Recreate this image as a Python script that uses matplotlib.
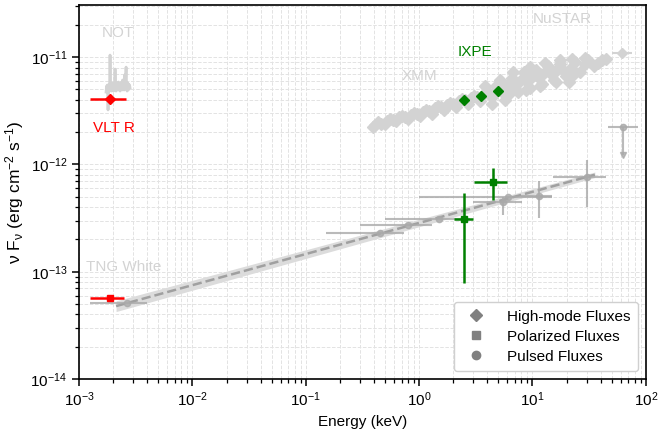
import numpy as np
import matplotlib.pyplot as plt
from matplotlib.lines import Line2D
from matplotlib.ticker import NullFormatter, LogLocator

plt.rcParams['font.family'] = ['Liberation Sans', 'DejaVu Sans']
plt.rcParams['mathtext.fontset'] = 'custom'
plt.rcParams['mathtext.rm'] = 'Liberation Sans'
plt.rcParams['mathtext.it'] = 'Liberation Sans:italic'
plt.rcParams['font.size'] = 11

# NOT optical spectrum (keV, erg cm^-2 s^-1)
not_E = [1.730e-3, 1.748e-3, 1.765e-3, 1.783e-3, 1.801e-3, 1.819e-3, 1.838e-3, 1.857e-3,
         1.876e-3, 1.895e-3, 1.915e-3, 1.934e-3, 1.954e-3, 1.974e-3, 1.995e-3, 2.015e-3,
         2.035e-3, 2.056e-3, 2.077e-3, 2.098e-3, 2.120e-3, 2.141e-3, 2.163e-3, 2.185e-3,
         2.208e-3, 2.230e-3, 2.253e-3, 2.276e-3, 2.299e-3, 2.323e-3, 2.347e-3, 2.371e-3,
         2.395e-3, 2.419e-3, 2.444e-3, 2.469e-3, 2.494e-3, 2.520e-3, 2.545e-3, 2.571e-3,
         2.598e-3, 2.624e-3, 2.651e-3, 2.678e-3, 2.705e-3, 2.733e-3, 2.761e-3, 2.789e-3, 2.817e-3]
not_F = [4.73, 5.38, 4.94, 5.50, 3.22, 5.15, 5.50, 4.83, 10.45, 5.15, 5.62, 4.83, 5.50, 4.94,
         5.74, 4.83, 5.38, 5.04, 7.74, 5.38, 4.83, 5.62, 5.04, 5.74, 4.94, 5.86, 5.04, 5.62,
         4.83, 5.74, 5.04, 5.86, 4.94, 6.12, 5.04, 5.86, 4.94, 6.81, 5.38, 6.12, 8.07, 5.38,
         4.83, 5.74, 4.94, 5.62, 5.04, 5.50, 5.15]
not_F = [f * 1e-12 for f in not_F]

# XMM + NuSTAR high-mode fluxes (units of 1e-12)
hm_E = [0.391, 0.433, 0.499, 0.553, 0.624, 0.705, 0.796, 0.900, 1.02, 1.15, 1.30, 1.46,
        1.65, 1.87, 2.11, 2.38, 2.69, 3.04, 3.44, 3.88, 4.38, 4.95, 5.59,
        0.4075, 0.4603, 0.5198, 0.5873, 0.6634, 0.7493, 0.8465, 0.956, 1.080, 1.220, 1.378,
        1.556, 1.758, 1.986, 2.243, 2.533, 2.862, 3.232, 3.651, 4.124, 4.659, 5.263,
        3.80, 4.38, 5.16, 5.71, 6.58, 7.43, 8.40, 9.48, 10.7, 12.1, 13.7, 15.4, 17.4,
        19.7, 20.9, 23.6, 26.2, 30.8, 34.8, 40.9,
        4.754, 5.483, 6.066, 6.992, 7.898, 8.922, 10.08, 11.39, 12.86, 14.52, 16.41, 18.53,
        21.80, 28.96, 37.71, 44.38, 6.32, 8.741, 11.61, 16.08, 22.25,
        6.714, 9.482, 12.86, 17.43, 22.25, 28.96]
hm_F = [2.24, 2.49, 2.39, 2.66, 2.55, 2.83, 2.66, 3.02, 2.83, 3.22, 2.96, 3.51,
        3.22, 3.74, 3.43, 4.07, 3.66, 4.34, 3.90, 4.73, 4.25, 5.16, 4.53,
        2.34, 2.39, 2.55, 2.60, 2.77, 2.77, 2.89, 2.96, 3.09, 3.15, 3.36,
        3.43, 3.58, 3.66, 3.90, 3.99, 4.16, 4.25, 4.44, 4.63, 4.83, 4.94,
        5.38, 3.66, 6.12, 3.99, 6.38, 4.73, 7.26, 5.16, 7.58, 5.62, 8.25, 6.12, 8.61,
        6.66, 5.86, 8.99, 7.26, 9.38, 8.25, 9.38,
        5.38, 4.94, 5.62, 5.38, 6.12, 5.86, 6.66, 6.38, 7.26, 6.96, 7.58, 7.58,
        7.90, 8.61, 8.80, 9.58, 4.63, 4.94, 5.38, 5.86, 6.66,
        7.26, 8.07, 8.80, 9.38, 9.58, 9.79]
hm_F = [f * 1e-12 for f in hm_F]
hm_last_E, hm_last_F, hm_last_Elo, hm_last_Ehi = 61.4, 1.09e-11, 50.1, 75.2

# IXPE high-mode fluxes
ixpe_E = [2.48, 3.51, 4.95]
ixpe_F = [3.99e-12, 4.35e-12, 4.83e-12]

# optical points
vlt_E, vlt_F, vlt_Elo, vlt_Ehi = 1.875e-3, 4.07e-12, 1.25e-3, 2.60e-3
tng_E, tng_F, tng_Elo, tng_Ehi = 1.875e-3, 5.66e-14, 1.25e-3, 2.49e-3

# polarized fluxes (IXPE)
pol_E = [2.48, 4.48]
pol_F = [3.13e-13, 6.9e-13]
pol_Elo = [2.03, 3.04]
pol_Ehi = [2.98, 5.94]
pol_Flo = [7.8e-14, 4.7e-13]
pol_Fhi = [5.46e-13, 9.3e-13]

# pulsed fluxes
pul_E = [2.65e-3, 0.451, 0.796, 1.50, 5.48, 6.07, 11.4, 30.2]
pul_F = [5.1e-14, 2.28e-13, 2.70e-13, 3.13e-13, 4.5e-13, 5.0e-13, 5.1e-13, 7.69e-13]
pul_Elo = [1.25e-3, 0.151, 0.30, 0.50, 2.98, 1.0, 8.0, 15.1]
pul_Ehi = [3.98e-3, 0.735, 1.30, 2.8, 8.05, 14.8, 15.0, 44.4]
pul_Flo = [5.1e-14, 2.28e-13, 2.70e-13, 3.13e-13, 3.4e-13, 5.0e-13, 3.2e-13, 4.05e-13]
pul_Fhi = [5.1e-14, 2.28e-13, 2.70e-13, 3.13e-13, 5.0e-13, 5.0e-13, 7.06e-13, 1.11e-12]
ul_E, ul_F, ul_Elo, ul_Ehi, ul_Fend = 62.7, 2.24e-12, 46.2, 85.0, 1.23e-12

# power-law model for pulsed emission
mod_E = [2.12e-3, 35.5]
mod_F = [4.78e-14, 8.02e-13]
mod_Flo = [4.25e-14, 7.55e-13]
mod_Fhi = [5.35e-14, 8.50e-13]

xticks = [1e-3, 1e-2, 1e-1, 1e0, 1e1, 1e2]
yticks = [1e-14, 1e-13, 1e-12, 1e-11]

fig = plt.figure(figsize=(6.59, 4.30), dpi=100)
ax = fig.add_axes([0.120, 0.1186, 0.860, 0.869])
ax.set_xscale('log')
ax.set_yscale('log')
ax.set_xlim(1e-3, 1e2)
ax.set_ylim(1e-14, 3.04e-11)

gcol = '#d3d3d3'
pcol = '#a9a9a9'

# NOT spectrum
ax.plot(not_E, not_F, color=gcol, lw=2.0, zorder=2)

# high-mode X-ray band
ax.plot(hm_E, hm_F, 'D', color=gcol, ms=6, lw=0, zorder=2)
ax.errorbar(hm_last_E, hm_last_F, xerr=[[hm_last_E - hm_last_Elo], [hm_last_Ehi - hm_last_E]],
            fmt='D', color=gcol, ms=5.5, elinewidth=1.5, zorder=2)
ax.plot(ixpe_E, ixpe_F, 'D', color='green', ms=5.5, lw=0, zorder=4)

# model band and line
ax.fill_between(mod_E, mod_Flo, mod_Fhi, color='#dcdcdc', lw=0, zorder=2)
ax.plot(mod_E, mod_F, '--', color='#a0a0a0', lw=1.8, zorder=3)

# pulsed points
pE = np.array(pul_E)
pF = np.array(pul_F)
ax.errorbar(pE, pF,
            xerr=[pE - np.array(pul_Elo), np.array(pul_Ehi) - pE],
            yerr=[pF - np.array(pul_Flo), np.array(pul_Fhi) - pF],
            fmt='o', color=pcol, ms=4.5, elinewidth=1.5, alpha=0.8, zorder=3)
ax.errorbar(ul_E, ul_F, xerr=[[ul_E - ul_Elo], [ul_Ehi - ul_E]], yerr=[[ul_F - ul_Fend], [0]],
            fmt='o', color=pcol, ms=4.5, elinewidth=1.5, alpha=0.8, zorder=3)
ax.plot(ul_E, ul_Fend, 'v', color=pcol, ms=4.5, alpha=0.8, zorder=3)

# polarized points
qE = np.array(pol_E)
qF = np.array(pol_F)
ax.errorbar(qE, qF,
            xerr=[qE - np.array(pol_Elo), np.array(pol_Ehi) - qE],
            yerr=[qF - np.array(pol_Flo), np.array(pol_Fhi) - qF],
            fmt='s', color='green', ms=5, elinewidth=1.8, zorder=5)

# optical points
ax.errorbar(vlt_E, vlt_F, xerr=[[vlt_E - vlt_Elo], [vlt_Ehi - vlt_E]],
            fmt='D', color='red', ms=5, elinewidth=1.8, zorder=5)
ax.errorbar(tng_E, tng_F, xerr=[[tng_E - tng_Elo], [tng_Ehi - tng_E]],
            fmt='s', color='red', ms=5, elinewidth=1.8, zorder=5)

# instrument labels
ax.text(2.21e-3, 1.67e-11, 'NOT', color=gcol, ha='center', va='center', fontsize=11)
ax.text(2.04e-3, 2.19e-12, 'VLT R', color='red', ha='center', va='center', fontsize=11)
ax.text(2.49e-3, 1.10e-13, 'TNG White', color=gcol, ha='center', va='center', fontsize=11)
ax.text(1.0, 6.67e-12, 'XMM', color=gcol, ha='center', va='center', fontsize=11)
ax.text(3.10, 1.11e-11, 'IXPE', color='green', ha='center', va='center', fontsize=11)
ax.text(18.2, 2.25e-11, 'NuSTAR', color=gcol, ha='center', va='center', fontsize=11)

# ticks: fixed majors so no hidden out-of-range labels
ax.set_xticks(xticks)
ax.set_yticks(yticks)
ax.xaxis.set_minor_locator(LogLocator(base=10, subs=np.arange(2, 10), numticks=20))
ax.yaxis.set_minor_locator(LogLocator(base=10, subs=np.arange(2, 10), numticks=20))
ax.xaxis.set_minor_formatter(NullFormatter())
ax.yaxis.set_minor_formatter(NullFormatter())
ax.set_xlim(1e-3, 1e2)
ax.set_ylim(1e-14, 3.04e-11)

ax.grid(True, which='both', linestyle='--', color='#e3e3e3', lw=0.7, zorder=0)
ax.set_axisbelow(True)
for s in ax.spines.values():
    s.set_linewidth(1.2)
ax.tick_params(which='major', length=5, width=1.1, labelsize=11)
ax.tick_params(which='minor', length=3, width=0.9)

ax.set_xlabel('Energy (keV)', fontsize=11)
ax.set_ylabel(r'$\mathrm{\nu}$ F$_\mathrm{\nu}$ (erg cm$^{-2}$ s$^{-1}$)', fontsize=12.5, labelpad=3)

handles = [Line2D([], [], marker='D', ls='', color='#808080', ms=6),
           Line2D([], [], marker='s', ls='', color='#808080', ms=6),
           Line2D([], [], marker='o', ls='', color='#808080', ms=6)]
ax.legend(handles, ['High-mode Fluxes', 'Polarized Fluxes', 'Pulsed Fluxes'],
          loc='lower right', fontsize=11, frameon=True, edgecolor='#d0d0d0', framealpha=1,
          borderpad=0.5, handletextpad=1.0, labelspacing=0.4)

plt.savefig('out.png', dpi=100)
